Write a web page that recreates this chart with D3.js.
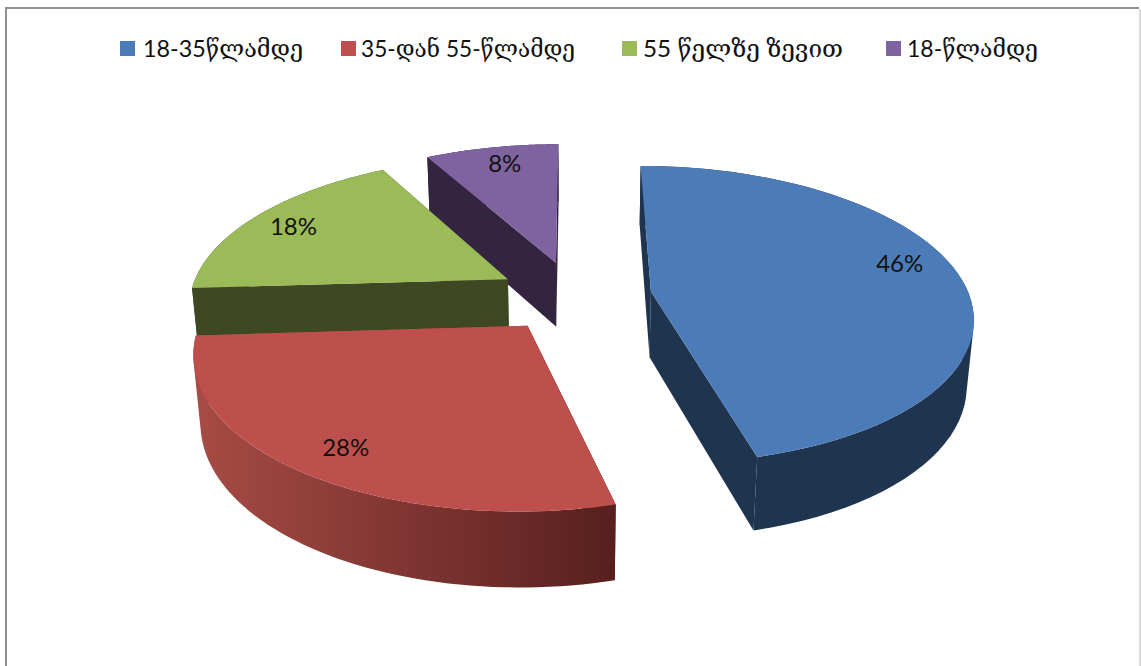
<!DOCTYPE html>
<html>
<head>
<meta charset="utf-8">
<script src="https://cdn.jsdelivr.net/npm/d3@7"></script>
<style>
  html, body { margin: 0; padding: 0; background: #fff; overflow: hidden; }
  svg { display: block; }
  text { font-family: Lato, "DejaVu Serif", serif; fill: #111; }
</style>
</head>
<body>
<div id="wrapper"></div>
<script>
// values
const categories = ["18-35წლამდე", "35-დან 55-წლამდე", "55 წელზე ზევით", "18-წლამდე"];
const values = [46, 28, 18, 8];
const percentLabels = ["46%", "28%", "18%", "8%"];

// colours, in category order
const topColors = ["#4b7cb8", "#bd4f4c", "#9bbb59", "#7f62a0"];
const sideColors = ["#1f344e", "url(#redSide)", "#3e4822", "#33243f"];

// legend layout
const legendSwatchX = [120, 341, 622, 886];
const legendTextX = [143, 361, 643, 907];
const legendTextWidth = [160, 214, 200, 131];

// small nudges so the labels sit where they do in the picture (degrees from bisector)
const labelNudge = [-6.4, -1.5, -0.6, 1];

const dimensions = { width: 1141, height: 666 };
const explode = 0.243;   // slice pull-out, in pie radii
const labelRadius = 0.84;
const perspective = 0.156;
const depthShrink = 0.018;

const xScale = d3.scaleLinear().domain([-1, 1]).range([574.5 - 318.5, 574.5 + 318.5]);
const yScale = d3.scaleLinear().domain([-1, 1]).range([296 + 146.5, 296 - 146.5]);
const zScale = d3.scaleLinear().domain([0, 1]).range([0, 67]);

// plane coords -> screen, with a bit of perspective
function project(X, Y, Z) {
  const w = 1 + perspective * Y + depthShrink * Z;
  return [
    xScale(0) + (xScale(X) - xScale(0)) / w,
    yScale(0) + (yScale(Y) - yScale(0) + zScale(Z)) / w,
  ];
}

const svg = d3.select("#wrapper")
  .append("svg")
    .attr("width", dimensions.width)
    .attr("height", dimensions.height);

// frame: no bottom edge, the screenshot is cut off there
svg.append("path")
    .attr("d", "M6,666V8H1139")
    .attr("fill", "none")
    .attr("stroke", "#8f8f8f")
    .attr("stroke-width", 2);
svg.append("path")
    .attr("d", "M1140,9V666")
    .attr("fill", "none")
    .attr("stroke", "#b5b5b5")
    .attr("stroke-width", 1);

const grad = svg.append("defs").append("linearGradient")
    .attr("id", "redSide")
    .attr("gradientUnits", "userSpaceOnUse")
    .attr("x1", 195).attr("x2", 613).attr("y1", 0).attr("y2", 0);
grad.append("stop").attr("offset", "0%").attr("stop-color", "#a84b45");
grad.append("stop").attr("offset", "100%").attr("stop-color", "#57201e");

const pie = d3.pie().sort(null).value(d => d)(values);
const line = d3.line();

const slices = pie.map((p, i) => {
  const mid = (p.startAngle + p.endAngle) / 2;
  const ox = explode * Math.sin(mid);
  const oy = explode * Math.cos(mid);
  const steps = d3.range(0, 61).map(k => p.startAngle + (p.endAngle - p.startAngle) * k / 60);
  const rim = z => steps.map(a => project(ox + Math.sin(a), oy + Math.cos(a), z));
  const labelAngle = mid + labelNudge[i] * Math.PI / 180;
  return {
    i, ox, oy,
    apexTop: project(ox, oy, 0),
    apexBottom: project(ox, oy, 1),
    rimTop: rim(0),
    rimBottom: rim(1),
    label: project(ox + labelRadius * Math.sin(labelAngle), oy + labelRadius * Math.cos(labelAngle), 0),
  };
});

// painter's order: back to front
const order = [3, 2, 0, 1];
order.forEach(i => {
  const s = slices[i];
  const g = svg.append("g");
  const rimEnd = s.rimTop.length - 1;

  // two cut faces
  g.append("path")
      .attr("d", line([s.apexTop, s.rimTop[0], s.rimBottom[0], s.apexBottom]) + "Z")
      .attr("fill", i === 1 ? "#57201e" : sideColors[i]);
  g.append("path")
      .attr("d", line([s.apexTop, s.rimTop[rimEnd], s.rimBottom[rimEnd], s.apexBottom]) + "Z")
      .attr("fill", i === 1 ? "#a84b45" : sideColors[i]);

  // outer wall: quads in one path, all wound the same way, so no seams and
  // the silhouette stays closed at the tangent points
  const wall = d3.range(rimEnd).map(k => {
    const quad = [s.rimTop[k], s.rimTop[k + 1], s.rimBottom[k + 1], s.rimBottom[k]];
    if (d3.polygonArea(quad) < 0) quad.reverse();
    return line(quad) + "Z";
  }).join("");
  g.append("path")
      .attr("d", wall)
      .attr("fill", sideColors[i]);

  // top
  g.append("path")
      .attr("d", line([s.apexTop].concat(s.rimTop)) + "Z")
      .attr("fill", topColors[i]);
});

// data labels
svg.selectAll(".pct")
  .data(slices)
  .enter().append("text")
    .attr("class", "pct")
    .attr("x", d => d.label[0])
    .attr("y", d => d.label[1])
    .attr("dy", "0.35em")
    .attr("text-anchor", "middle")
    .style("font-size", "24px")
    .text(d => percentLabels[d.i]);

// legend
const legend = svg.selectAll(".legend")
  .data(categories)
  .enter().append("g")
    .attr("class", "legend");

legend.append("rect")
    .attr("x", (d, i) => legendSwatchX[i])
    .attr("y", 41)
    .attr("width", 15)
    .attr("height", 15)
    .attr("fill", (d, i) => topColors[i]);

legend.append("text")
    .attr("x", (d, i) => legendTextX[i])
    .attr("y", 57)
    .attr("textLength", (d, i) => legendTextWidth[i])
    .attr("lengthAdjust", "spacingAndGlyphs")
    .style("font-size", "24px")
    .text(d => d);
</script>
</body>
</html>
